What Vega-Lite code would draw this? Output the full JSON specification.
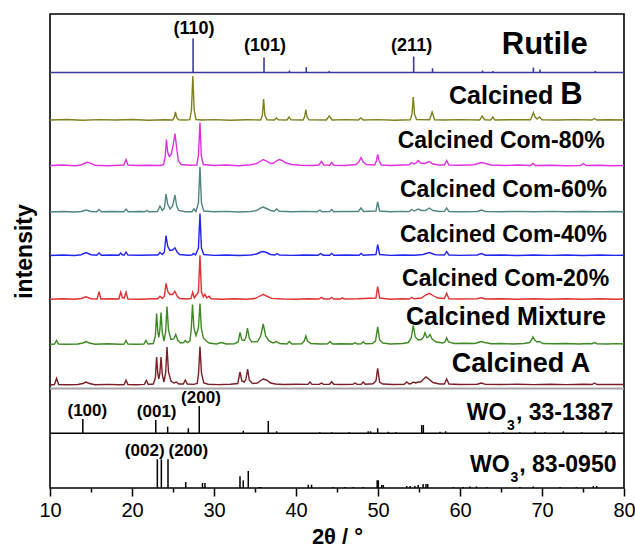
{
"$schema": "https://vega.github.io/schema/vega-lite/v6.json",
"width": 574, "height": 474,
"autosize": "none",
"padding": {"left": 50, "top": 14, "right": 11, "bottom": 63},
"background": "white",
"config": {"view": {"stroke": "#000", "strokeWidth": 1.6}, "font": "Liberation Sans",
 "axisX": {"labelFontSize": 20, "labelColor": "#000", "labelFont": "Liberation Sans", "labelPadding": 4, "titleFontSize": 22, "titleFontWeight": "bold", "titleColor": "#000", "titleFont": "Liberation Sans", "titlePadding": 6, "grid": false, "domain": false, "tickColor": "#000", "tickWidth": 1.5},
 "axisY": {"titleFontSize": 23, "titleFontWeight": "bold", "titleColor": "#000", "titleFont": "Liberation Sans", "titlePadding": 14, "grid": false, "domain": false, "ticks": false, "labels": false}},
"datasets": {
"traces": [
{"s":"B","x":10,"y":368},{"s":"B","x":12,"y":368.5},{"s":"B","x":14,"y":367.8},{"s":"B","x":16,"y":368.4},{"s":"B","x":18,"y":368},{"s":"B","x":20,"y":368.5},{"s":"B","x":22,"y":367.8},{"s":"B","x":24,"y":368.3},{"s":"B","x":24.95,"y":368},{"s":"B","x":25.15,"y":370.5},{"s":"B","x":25.3,"y":376},{"s":"B","x":25.45,"y":370.5},{"s":"B","x":25.7,"y":368.2},{"s":"B","x":26.5,"y":368},{"s":"B","x":27.05,"y":368.3},{"s":"B","x":27.25,"y":378},{"s":"B","x":27.42,"y":412},{"s":"B","x":27.58,"y":378},{"s":"B","x":27.8,"y":368.5},{"s":"B","x":28.5,"y":368},{"s":"B","x":30,"y":368.4},{"s":"B","x":32,"y":367.8},{"s":"B","x":34,"y":368.3},{"s":"B","x":35.5,"y":368},{"s":"B","x":35.7,"y":368.2},{"s":"B","x":35.9,"y":373},{"s":"B","x":36.05,"y":389},{"s":"B","x":36.2,"y":373},{"s":"B","x":36.45,"y":368.3},{"s":"B","x":37.35,"y":368},{"s":"B","x":37.6,"y":370},{"s":"B","x":37.85,"y":368.2},{"s":"B","x":38.9,"y":368},{"s":"B","x":39.15,"y":371},{"s":"B","x":39.4,"y":368.2},{"s":"B","x":40.85,"y":368},{"s":"B","x":41.05,"y":371},{"s":"B","x":41.2,"y":378.5},{"s":"B","x":41.35,"y":371},{"s":"B","x":41.6,"y":368.2},{"s":"B","x":43.7,"y":368},{"s":"B","x":44.05,"y":372},{"s":"B","x":44.4,"y":368},{"s":"B","x":46,"y":368.4},{"s":"B","x":47.6,"y":368},{"s":"B","x":47.9,"y":370},{"s":"B","x":48.2,"y":368},{"s":"B","x":50,"y":368.4},{"s":"B","x":52,"y":367.8},{"s":"B","x":53.95,"y":368.3},{"s":"B","x":54.15,"y":374},{"s":"B","x":54.3,"y":391},{"s":"B","x":54.45,"y":374},{"s":"B","x":54.7,"y":368.5},{"s":"B","x":56.3,"y":368.2},{"s":"B","x":56.6,"y":376},{"s":"B","x":56.9,"y":368.3},{"s":"B","x":58,"y":368},{"s":"B","x":60,"y":368.4},{"s":"B","x":62.4,"y":368},{"s":"B","x":62.7,"y":372},{"s":"B","x":63,"y":368.3},{"s":"B","x":63.75,"y":368},{"s":"B","x":64,"y":371},{"s":"B","x":64.25,"y":368},{"s":"B","x":66,"y":368.3},{"s":"B","x":68.6,"y":368.2},{"s":"B","x":68.8,"y":372},{"s":"B","x":68.95,"y":375.5},{"s":"B","x":69.15,"y":371},{"s":"B","x":69.4,"y":369},{"s":"B","x":69.7,"y":371},{"s":"B","x":70,"y":368.3},{"s":"B","x":72,"y":368},{"s":"B","x":74,"y":368.4},{"s":"B","x":76.1,"y":368},{"s":"B","x":76.4,"y":369.5},{"s":"B","x":76.7,"y":368},{"s":"B","x":78,"y":368.3},{"s":"B","x":80,"y":368},
{"s":"80","x":10,"y":322.5},{"s":"80","x":11.5,"y":323},{"s":"80","x":13,"y":322.3},{"s":"80","x":13.8,"y":323},{"s":"80","x":14.3,"y":325},{"s":"80","x":14.6,"y":325.8},{"s":"80","x":14.9,"y":324.8},{"s":"80","x":15.5,"y":322.8},{"s":"80","x":17,"y":322.3},{"s":"80","x":18.5,"y":322.8},{"s":"80","x":19.0,"y":323},{"s":"80","x":19.27,"y":328.5},{"s":"80","x":19.5,"y":323},{"s":"80","x":20.5,"y":322.5},{"s":"80","x":22,"y":322.8},{"s":"80","x":23.5,"y":322.5},{"s":"80","x":23.85,"y":323.5},{"s":"80","x":24.05,"y":331},{"s":"80","x":24.2,"y":348.5},{"s":"80","x":24.35,"y":336},{"s":"80","x":24.55,"y":331.5},{"s":"80","x":24.8,"y":334},{"s":"80","x":25.0,"y":342},{"s":"80","x":25.24,"y":354.5},{"s":"80","x":25.45,"y":340},{"s":"80","x":25.65,"y":327},{"s":"80","x":26,"y":323.5},{"s":"80","x":27,"y":322.8},{"s":"80","x":27.9,"y":323},{"s":"80","x":28.1,"y":332},{"s":"80","x":28.29,"y":365.5},{"s":"80","x":28.45,"y":332},{"s":"80","x":28.7,"y":323.5},{"s":"80","x":30,"y":322.5},{"s":"80","x":31.5,"y":323},{"s":"80","x":33,"y":322.3},{"s":"80","x":34.5,"y":323.2},{"s":"80","x":35.2,"y":324.5},{"s":"80","x":35.7,"y":327},{"s":"80","x":36.0,"y":328.5},{"s":"80","x":36.4,"y":327},{"s":"80","x":36.9,"y":324.5},{"s":"80","x":37.3,"y":325},{"s":"80","x":37.6,"y":327},{"s":"80","x":37.96,"y":328.5},{"s":"80","x":38.3,"y":327.5},{"s":"80","x":38.8,"y":325},{"s":"80","x":39.5,"y":323.5},{"s":"80","x":40.5,"y":322.8},{"s":"80","x":42,"y":322.5},{"s":"80","x":42.8,"y":323},{"s":"80","x":43.1,"y":326.5},{"s":"80","x":43.4,"y":323},{"s":"80","x":44.1,"y":322.8},{"s":"80","x":44.35,"y":325.5},{"s":"80","x":44.6,"y":322.8},{"s":"80","x":46,"y":322.5},{"s":"80","x":47.3,"y":323.5},{"s":"80","x":47.65,"y":326},{"s":"80","x":47.93,"y":330.5},{"s":"80","x":48.2,"y":326},{"s":"80","x":48.6,"y":323.5},{"s":"80","x":49.6,"y":323},{"s":"80","x":49.8,"y":327},{"s":"80","x":49.96,"y":333.5},{"s":"80","x":50.15,"y":327},{"s":"80","x":50.4,"y":323},{"s":"80","x":51.5,"y":322.5},{"s":"80","x":53,"y":323},{"s":"80","x":53.8,"y":323.3},{"s":"80","x":54.1,"y":325.5},{"s":"80","x":54.4,"y":324},{"s":"80","x":54.65,"y":325},{"s":"80","x":54.9,"y":327.5},{"s":"80","x":55.2,"y":325},{"s":"80","x":55.7,"y":324.5},{"s":"80","x":56.26,"y":326.5},{"s":"80","x":56.7,"y":324},{"s":"80","x":57.5,"y":323},{"s":"80","x":58.1,"y":323},{"s":"80","x":58.37,"y":327.5},{"s":"80","x":58.65,"y":323},{"s":"80","x":60,"y":322.8},{"s":"80","x":61.7,"y":323.3},{"s":"80","x":62.2,"y":324.5},{"s":"80","x":62.64,"y":325.5},{"s":"80","x":63.1,"y":324.5},{"s":"80","x":63.8,"y":323},{"s":"80","x":65.5,"y":322.5},{"s":"80","x":67,"y":323},{"s":"80","x":68.6,"y":322.5},{"s":"80","x":68.9,"y":324.5},{"s":"80","x":69.2,"y":322.5},{"s":"80","x":71,"y":322.8},{"s":"80","x":73,"y":322.3},{"s":"80","x":74.7,"y":322.5},{"s":"80","x":75.04,"y":324.5},{"s":"80","x":75.4,"y":322.5},{"s":"80","x":77,"y":322.8},{"s":"80","x":78.5,"y":322.3},{"s":"80","x":80,"y":322.5},
{"s":"60","x":10,"y":276},{"s":"60","x":11.5,"y":276.5},{"s":"60","x":13,"y":276},{"s":"60","x":13.8,"y":276.5},{"s":"60","x":14.4,"y":278},{"s":"60","x":15,"y":276.5},{"s":"60","x":15.7,"y":276.2},{"s":"60","x":15.98,"y":278.5},{"s":"60","x":16.25,"y":276.2},{"s":"60","x":17.5,"y":276.5},{"s":"60","x":19.0,"y":276.2},{"s":"60","x":19.27,"y":279},{"s":"60","x":19.55,"y":276.2},{"s":"60","x":21,"y":276.5},{"s":"60","x":21.55,"y":276.3},{"s":"60","x":21.8,"y":277.5},{"s":"60","x":22.05,"y":276.3},{"s":"60","x":23.1,"y":276.5},{"s":"60","x":23.41,"y":282},{"s":"60","x":23.7,"y":277.5},{"s":"60","x":23.95,"y":280},{"s":"60","x":24.15,"y":294},{"s":"60","x":24.35,"y":284},{"s":"60","x":24.65,"y":279},{"s":"60","x":24.95,"y":282},{"s":"60","x":25.24,"y":293},{"s":"60","x":25.45,"y":282},{"s":"60","x":25.7,"y":277.5},{"s":"60","x":26.5,"y":276.3},{"s":"60","x":27.3,"y":276.3},{"s":"60","x":27.56,"y":279},{"s":"60","x":27.8,"y":276.5},{"s":"60","x":28.1,"y":285},{"s":"60","x":28.29,"y":321},{"s":"60","x":28.47,"y":285},{"s":"60","x":28.75,"y":277},{"s":"60","x":30,"y":276.2},{"s":"60","x":31.5,"y":276.6},{"s":"60","x":33,"y":276},{"s":"60","x":34.5,"y":276.5},{"s":"60","x":35.2,"y":277.5},{"s":"60","x":35.7,"y":280},{"s":"60","x":36.0,"y":281},{"s":"60","x":36.4,"y":279.5},{"s":"60","x":36.9,"y":277.5},{"s":"60","x":37.35,"y":276.8},{"s":"60","x":37.64,"y":279},{"s":"60","x":37.95,"y":276.8},{"s":"60","x":39.5,"y":276.2},{"s":"60","x":41,"y":276.6},{"s":"60","x":42.6,"y":276.2},{"s":"60","x":42.9,"y":278},{"s":"60","x":43.2,"y":276.3},{"s":"60","x":44.1,"y":276.4},{"s":"60","x":44.35,"y":278.5},{"s":"60","x":44.6,"y":276.3},{"s":"60","x":46,"y":276.6},{"s":"60","x":47.6,"y":276.5},{"s":"60","x":47.93,"y":280},{"s":"60","x":48.25,"y":276.5},{"s":"60","x":49.75,"y":277},{"s":"60","x":49.96,"y":286},{"s":"60","x":50.2,"y":277},{"s":"60","x":51.5,"y":276.3},{"s":"60","x":53,"y":276.6},{"s":"60","x":53.8,"y":276.4},{"s":"60","x":54.1,"y":278.5},{"s":"60","x":54.45,"y":277},{"s":"60","x":54.9,"y":279},{"s":"60","x":55.3,"y":277.5},{"s":"60","x":55.8,"y":277.5},{"s":"60","x":56.26,"y":280},{"s":"60","x":56.7,"y":277.5},{"s":"60","x":57.5,"y":276.5},{"s":"60","x":58.1,"y":276.6},{"s":"60","x":58.37,"y":280},{"s":"60","x":58.65,"y":276.5},{"s":"60","x":60,"y":276.2},{"s":"60","x":62.1,"y":276.5},{"s":"60","x":62.6,"y":278},{"s":"60","x":63.1,"y":276.5},{"s":"60","x":65,"y":276.3},{"s":"60","x":67,"y":276.6},{"s":"60","x":69,"y":276.2},{"s":"60","x":71,"y":276.6},{"s":"60","x":73,"y":276.2},{"s":"60","x":75,"y":276.5},{"s":"60","x":77,"y":276.2},{"s":"60","x":79,"y":276.5},{"s":"60","x":80,"y":276.3},
{"s":"40","x":10,"y":232.5},{"s":"40","x":11.5,"y":233},{"s":"40","x":13,"y":232.5},{"s":"40","x":13.8,"y":233.3},{"s":"40","x":14.4,"y":235.5},{"s":"40","x":15,"y":233.3},{"s":"40","x":15.7,"y":232.8},{"s":"40","x":15.98,"y":235},{"s":"40","x":16.25,"y":232.8},{"s":"40","x":17.5,"y":233},{"s":"40","x":18.4,"y":232.8},{"s":"40","x":18.62,"y":235},{"s":"40","x":18.85,"y":233},{"s":"40","x":19.05,"y":233},{"s":"40","x":19.27,"y":236},{"s":"40","x":19.5,"y":233},{"s":"40","x":21,"y":232.8},{"s":"40","x":22.5,"y":233},{"s":"40","x":23.15,"y":233},{"s":"40","x":23.41,"y":235.5},{"s":"40","x":23.7,"y":233.5},{"s":"40","x":23.95,"y":236},{"s":"40","x":24.15,"y":252.5},{"s":"40","x":24.35,"y":242},{"s":"40","x":24.6,"y":237.5},{"s":"40","x":24.95,"y":238},{"s":"40","x":25.24,"y":240.2},{"s":"40","x":25.5,"y":236},{"s":"40","x":25.8,"y":233.5},{"s":"40","x":26.8,"y":232.8},{"s":"40","x":27.3,"y":233},{"s":"40","x":27.5,"y":234.5},{"s":"40","x":27.75,"y":233},{"s":"40","x":28.1,"y":240},{"s":"40","x":28.29,"y":274.5},{"s":"40","x":28.47,"y":240},{"s":"40","x":28.75,"y":233.5},{"s":"40","x":30,"y":232.6},{"s":"40","x":31.5,"y":233},{"s":"40","x":33,"y":232.5},{"s":"40","x":34.5,"y":233},{"s":"40","x":35.2,"y":234},{"s":"40","x":35.7,"y":236},{"s":"40","x":36.0,"y":236.5},{"s":"40","x":36.4,"y":235.5},{"s":"40","x":36.9,"y":233.5},{"s":"40","x":37.45,"y":233},{"s":"40","x":37.7,"y":234.5},{"s":"40","x":37.95,"y":233},{"s":"40","x":39.5,"y":232.6},{"s":"40","x":41,"y":233},{"s":"40","x":42.7,"y":232.8},{"s":"40","x":43.0,"y":234.5},{"s":"40","x":43.3,"y":232.8},{"s":"40","x":44.1,"y":232.8},{"s":"40","x":44.35,"y":234.5},{"s":"40","x":44.6,"y":232.8},{"s":"40","x":46,"y":233},{"s":"40","x":47.7,"y":232.8},{"s":"40","x":47.93,"y":234.5},{"s":"40","x":48.2,"y":232.8},{"s":"40","x":49.75,"y":233.5},{"s":"40","x":49.96,"y":243.5},{"s":"40","x":50.2,"y":233.5},{"s":"40","x":51.5,"y":232.6},{"s":"40","x":53,"y":233},{"s":"40","x":54.5,"y":232.8},{"s":"40","x":55.5,"y":233.5},{"s":"40","x":56.26,"y":235.5},{"s":"40","x":57,"y":233.3},{"s":"40","x":58.1,"y":233},{"s":"40","x":58.37,"y":236.5},{"s":"40","x":58.65,"y":233},{"s":"40","x":60,"y":232.6},{"s":"40","x":62.1,"y":233},{"s":"40","x":62.6,"y":234.5},{"s":"40","x":63.1,"y":232.8},{"s":"40","x":65,"y":233},{"s":"40","x":67,"y":232.5},{"s":"40","x":69,"y":233},{"s":"40","x":71,"y":232.6},{"s":"40","x":73,"y":233},{"s":"40","x":75,"y":232.5},{"s":"40","x":77,"y":233},{"s":"40","x":79,"y":232.6},{"s":"40","x":80,"y":232.8},
{"s":"20","x":10,"y":188.7},{"s":"20","x":11.5,"y":189.2},{"s":"20","x":13,"y":188.7},{"s":"20","x":13.8,"y":189.5},{"s":"20","x":14.4,"y":191.2},{"s":"20","x":15,"y":189.3},{"s":"20","x":15.75,"y":189},{"s":"20","x":15.98,"y":196.4},{"s":"20","x":16.2,"y":189},{"s":"20","x":17.5,"y":189.2},{"s":"20","x":18.4,"y":189},{"s":"20","x":18.62,"y":195.7},{"s":"20","x":18.85,"y":190},{"s":"20","x":19.05,"y":190},{"s":"20","x":19.27,"y":195.7},{"s":"20","x":19.5,"y":189},{"s":"20","x":21,"y":188.8},{"s":"20","x":22.5,"y":189.2},{"s":"20","x":23.15,"y":189.2},{"s":"20","x":23.41,"y":191.7},{"s":"20","x":23.7,"y":189.5},{"s":"20","x":23.95,"y":192},{"s":"20","x":24.15,"y":204.7},{"s":"20","x":24.35,"y":197},{"s":"20","x":24.6,"y":193.5},{"s":"20","x":24.95,"y":193.5},{"s":"20","x":25.24,"y":196.7},{"s":"20","x":25.5,"y":192},{"s":"20","x":25.8,"y":189.5},{"s":"20","x":26.8,"y":189},{"s":"20","x":27.2,"y":189.5},{"s":"20","x":27.4,"y":195.7},{"s":"20","x":27.6,"y":190},{"s":"20","x":28.1,"y":196},{"s":"20","x":28.29,"y":232.7},{"s":"20","x":28.47,"y":196},{"s":"20","x":28.7,"y":191},{"s":"20","x":28.9,"y":193.7},{"s":"20","x":29.1,"y":190},{"s":"20","x":29.4,"y":191.7},{"s":"20","x":29.65,"y":189.2},{"s":"20","x":31,"y":188.8},{"s":"20","x":32.5,"y":189.2},{"s":"20","x":34,"y":188.7},{"s":"20","x":35,"y":189.5},{"s":"20","x":35.6,"y":192},{"s":"20","x":36.0,"y":193.7},{"s":"20","x":36.4,"y":192},{"s":"20","x":37,"y":189.6},{"s":"20","x":38.5,"y":189},{"s":"20","x":40,"y":188.8},{"s":"20","x":41.5,"y":189.2},{"s":"20","x":42.8,"y":189},{"s":"20","x":43.1,"y":190.7},{"s":"20","x":43.4,"y":189},{"s":"20","x":44.1,"y":189},{"s":"20","x":44.35,"y":190.7},{"s":"20","x":44.6,"y":189},{"s":"20","x":45.4,"y":189},{"s":"20","x":45.65,"y":190.2},{"s":"20","x":45.9,"y":189},{"s":"20","x":47.5,"y":189.2},{"s":"20","x":49.75,"y":190},{"s":"20","x":49.96,"y":201.4},{"s":"20","x":50.2,"y":190},{"s":"20","x":51.5,"y":188.8},{"s":"20","x":53,"y":189.2},{"s":"20","x":53.85,"y":189},{"s":"20","x":54.1,"y":190.7},{"s":"20","x":54.4,"y":189.2},{"s":"20","x":55.3,"y":190},{"s":"20","x":55.8,"y":193},{"s":"20","x":56.26,"y":194.7},{"s":"20","x":56.7,"y":192.5},{"s":"20","x":57.3,"y":190},{"s":"20","x":58.1,"y":189.5},{"s":"20","x":58.37,"y":194.7},{"s":"20","x":58.65,"y":189.3},{"s":"20","x":60,"y":189},{"s":"20","x":62.1,"y":189.2},{"s":"20","x":62.6,"y":190.2},{"s":"20","x":63.1,"y":189},{"s":"20","x":65,"y":189.2},{"s":"20","x":67,"y":188.7},{"s":"20","x":69,"y":189.2},{"s":"20","x":71,"y":188.8},{"s":"20","x":73,"y":189.2},{"s":"20","x":75,"y":188.7},{"s":"20","x":77,"y":189.2},{"s":"20","x":79,"y":188.8},{"s":"20","x":80,"y":189},
{"s":"Mix","x":10,"y":143.5},{"s":"Mix","x":10.55,"y":144},{"s":"Mix","x":10.8,"y":147.5},{"s":"Mix","x":11.05,"y":144},{"s":"Mix","x":12,"y":143.8},{"s":"Mix","x":13.4,"y":144},{"s":"Mix","x":14,"y":145},{"s":"Mix","x":14.4,"y":146.5},{"s":"Mix","x":14.8,"y":145},{"s":"Mix","x":15.5,"y":143.8},{"s":"Mix","x":17,"y":144.2},{"s":"Mix","x":18.5,"y":143.8},{"s":"Mix","x":19.05,"y":144},{"s":"Mix","x":19.27,"y":147.5},{"s":"Mix","x":19.5,"y":144},{"s":"Mix","x":20.5,"y":143.8},{"s":"Mix","x":21.45,"y":144},{"s":"Mix","x":21.7,"y":147.5},{"s":"Mix","x":21.95,"y":144},{"s":"Mix","x":22.6,"y":144.5},{"s":"Mix","x":22.85,"y":152},{"s":"Mix","x":23.0,"y":174.5},{"s":"Mix","x":23.15,"y":156},{"s":"Mix","x":23.27,"y":150.5},{"s":"Mix","x":23.4,"y":158},{"s":"Mix","x":23.54,"y":175.5},{"s":"Mix","x":23.7,"y":155},{"s":"Mix","x":23.9,"y":147},{"s":"Mix","x":24.1,"y":156},{"s":"Mix","x":24.27,"y":181.5},{"s":"Mix","x":24.45,"y":158},{"s":"Mix","x":24.75,"y":148.5},{"s":"Mix","x":25.1,"y":149},{"s":"Mix","x":25.33,"y":153.5},{"s":"Mix","x":25.6,"y":147.5},{"s":"Mix","x":25.95,"y":145},{"s":"Mix","x":26.3,"y":145.5},{"s":"Mix","x":26.5,"y":147.5},{"s":"Mix","x":26.75,"y":145.5},{"s":"Mix","x":27.05,"y":147},{"s":"Mix","x":27.22,"y":158},{"s":"Mix","x":27.38,"y":183.5},{"s":"Mix","x":27.55,"y":160},{"s":"Mix","x":27.8,"y":152.5},{"s":"Mix","x":28.1,"y":160},{"s":"Mix","x":28.29,"y":184.5},{"s":"Mix","x":28.45,"y":160},{"s":"Mix","x":28.7,"y":150},{"s":"Mix","x":29.0,"y":147.5},{"s":"Mix","x":29.4,"y":145},{"s":"Mix","x":30.3,"y":144},{"s":"Mix","x":30.9,"y":145.5},{"s":"Mix","x":31.5,"y":144},{"s":"Mix","x":32.5,"y":144.3},{"s":"Mix","x":32.95,"y":146},{"s":"Mix","x":33.17,"y":155.5},{"s":"Mix","x":33.4,"y":148},{"s":"Mix","x":33.7,"y":147.5},{"s":"Mix","x":33.9,"y":151},{"s":"Mix","x":34.08,"y":160},{"s":"Mix","x":34.3,"y":150},{"s":"Mix","x":34.6,"y":146},{"s":"Mix","x":35.3,"y":146.5},{"s":"Mix","x":35.7,"y":152},{"s":"Mix","x":36.0,"y":164},{"s":"Mix","x":36.3,"y":152},{"s":"Mix","x":36.7,"y":147},{"s":"Mix","x":37.2,"y":145},{"s":"Mix","x":37.6,"y":146.5},{"s":"Mix","x":38,"y":144.5},{"s":"Mix","x":38.9,"y":144},{"s":"Mix","x":39.2,"y":146.5},{"s":"Mix","x":39.5,"y":144},{"s":"Mix","x":40.7,"y":144.2},{"s":"Mix","x":41.0,"y":147},{"s":"Mix","x":41.2,"y":152},{"s":"Mix","x":41.4,"y":147},{"s":"Mix","x":41.8,"y":144.5},{"s":"Mix","x":43,"y":144},{"s":"Mix","x":43.85,"y":144.2},{"s":"Mix","x":44.15,"y":146.5},{"s":"Mix","x":44.45,"y":144},{"s":"Mix","x":45.5,"y":144.3},{"s":"Mix","x":46.95,"y":144},{"s":"Mix","x":47.2,"y":145.5},{"s":"Mix","x":47.45,"y":144},{"s":"Mix","x":47.95,"y":144.2},{"s":"Mix","x":48.2,"y":146.2},{"s":"Mix","x":48.45,"y":144.2},{"s":"Mix","x":49.3,"y":144.5},{"s":"Mix","x":49.7,"y":147},{"s":"Mix","x":49.96,"y":161.2},{"s":"Mix","x":50.2,"y":148},{"s":"Mix","x":50.6,"y":145},{"s":"Mix","x":51.5,"y":144},{"s":"Mix","x":53,"y":144.5},{"s":"Mix","x":53.7,"y":145.5},{"s":"Mix","x":54.05,"y":150},{"s":"Mix","x":54.3,"y":162.5},{"s":"Mix","x":54.55,"y":151},{"s":"Mix","x":54.9,"y":148},{"s":"Mix","x":55.3,"y":148.5},{"s":"Mix","x":55.55,"y":151},{"s":"Mix","x":55.73,"y":155.2},{"s":"Mix","x":55.95,"y":150.5},{"s":"Mix","x":56.15,"y":151},{"s":"Mix","x":56.34,"y":153.5},{"s":"Mix","x":56.6,"y":149},{"s":"Mix","x":57.1,"y":146},{"s":"Mix","x":57.9,"y":145},{"s":"Mix","x":58.2,"y":146.5},{"s":"Mix","x":58.37,"y":150.2},{"s":"Mix","x":58.6,"y":146},{"s":"Mix","x":59.3,"y":144.5},{"s":"Mix","x":60.5,"y":144.8},{"s":"Mix","x":61.8,"y":144.5},{"s":"Mix","x":62.2,"y":145.5},{"s":"Mix","x":62.6,"y":146.5},{"s":"Mix","x":63,"y":145.5},{"s":"Mix","x":63.8,"y":144.2},{"s":"Mix","x":65,"y":144.5},{"s":"Mix","x":66.5,"y":144},{"s":"Mix","x":67.8,"y":144.5},{"s":"Mix","x":68.5,"y":145.5},{"s":"Mix","x":68.75,"y":148.5},{"s":"Mix","x":68.9,"y":151.2},{"s":"Mix","x":69.1,"y":148},{"s":"Mix","x":69.4,"y":146},{"s":"Mix","x":69.7,"y":146.5},{"s":"Mix","x":70.1,"y":144.5},{"s":"Mix","x":71.5,"y":144.2},{"s":"Mix","x":73,"y":144.5},{"s":"Mix","x":74.5,"y":144},{"s":"Mix","x":75.7,"y":144.5},{"s":"Mix","x":76.1,"y":144.3},{"s":"Mix","x":76.4,"y":145.5},{"s":"Mix","x":76.7,"y":144.3},{"s":"Mix","x":78,"y":144},{"s":"Mix","x":79,"y":144.4},{"s":"Mix","x":80,"y":144},
{"s":"A","x":10,"y":103},{"s":"A","x":10.55,"y":103.5},{"s":"A","x":10.8,"y":109.7},{"s":"A","x":11.05,"y":103.5},{"s":"A","x":12,"y":103.2},{"s":"A","x":13.4,"y":103.5},{"s":"A","x":14,"y":104.5},{"s":"A","x":14.4,"y":106},{"s":"A","x":14.8,"y":104.5},{"s":"A","x":15.5,"y":103.3},{"s":"A","x":17,"y":103.6},{"s":"A","x":18.5,"y":103.2},{"s":"A","x":19.05,"y":103.5},{"s":"A","x":19.27,"y":108},{"s":"A","x":19.5,"y":103.5},{"s":"A","x":20.5,"y":103.3},{"s":"A","x":21.5,"y":103.6},{"s":"A","x":21.75,"y":107.5},{"s":"A","x":22,"y":103.5},{"s":"A","x":22.6,"y":104},{"s":"A","x":22.85,"y":110},{"s":"A","x":23.0,"y":131},{"s":"A","x":23.15,"y":114},{"s":"A","x":23.27,"y":109},{"s":"A","x":23.4,"y":115},{"s":"A","x":23.54,"y":131},{"s":"A","x":23.7,"y":113},{"s":"A","x":23.9,"y":106},{"s":"A","x":24.1,"y":115},{"s":"A","x":24.27,"y":141},{"s":"A","x":24.45,"y":116},{"s":"A","x":24.75,"y":107},{"s":"A","x":25.1,"y":105},{"s":"A","x":25.4,"y":106},{"s":"A","x":25.7,"y":104},{"s":"A","x":26.25,"y":104},{"s":"A","x":26.5,"y":108},{"s":"A","x":26.75,"y":104},{"s":"A","x":27.5,"y":103.6},{"s":"A","x":27.95,"y":104.5},{"s":"A","x":28.12,"y":115},{"s":"A","x":28.29,"y":141.5},{"s":"A","x":28.47,"y":115},{"s":"A","x":28.75,"y":105},{"s":"A","x":29.3,"y":103.8},{"s":"A","x":30.5,"y":103.4},{"s":"A","x":32,"y":103.7},{"s":"A","x":32.9,"y":104.5},{"s":"A","x":33.17,"y":116},{"s":"A","x":33.4,"y":107},{"s":"A","x":33.7,"y":106},{"s":"A","x":33.9,"y":109},{"s":"A","x":34.1,"y":119},{"s":"A","x":34.3,"y":108},{"s":"A","x":34.7,"y":104.5},{"s":"A","x":35.3,"y":105},{"s":"A","x":35.7,"y":107.5},{"s":"A","x":36.0,"y":109},{"s":"A","x":36.4,"y":108},{"s":"A","x":36.9,"y":105},{"s":"A","x":37.5,"y":104},{"s":"A","x":38.5,"y":103.5},{"s":"A","x":40,"y":103.8},{"s":"A","x":41.45,"y":103.6},{"s":"A","x":41.7,"y":106},{"s":"A","x":41.95,"y":103.6},{"s":"A","x":42.85,"y":103.6},{"s":"A","x":43.1,"y":105},{"s":"A","x":43.35,"y":103.6},{"s":"A","x":44.1,"y":103.8},{"s":"A","x":44.35,"y":106.3},{"s":"A","x":44.6,"y":103.7},{"s":"A","x":45.5,"y":103.5},{"s":"A","x":46.95,"y":103.6},{"s":"A","x":47.2,"y":105},{"s":"A","x":47.45,"y":103.6},{"s":"A","x":47.95,"y":103.7},{"s":"A","x":48.2,"y":106},{"s":"A","x":48.45,"y":103.7},{"s":"A","x":49.4,"y":104.2},{"s":"A","x":49.75,"y":107},{"s":"A","x":49.96,"y":119.7},{"s":"A","x":50.2,"y":106},{"s":"A","x":50.6,"y":104},{"s":"A","x":51.8,"y":103.5},{"s":"A","x":53.2,"y":103.8},{"s":"A","x":53.5,"y":106},{"s":"A","x":53.8,"y":104},{"s":"A","x":54.05,"y":104.5},{"s":"A","x":54.3,"y":106},{"s":"A","x":54.6,"y":105},{"s":"A","x":54.9,"y":106},{"s":"A","x":55.2,"y":106},{"s":"A","x":55.5,"y":108.5},{"s":"A","x":55.85,"y":111},{"s":"A","x":56.2,"y":109},{"s":"A","x":56.7,"y":105.5},{"s":"A","x":57.5,"y":104},{"s":"A","x":58.1,"y":104},{"s":"A","x":58.37,"y":109},{"s":"A","x":58.65,"y":104},{"s":"A","x":60,"y":103.5},{"s":"A","x":62.1,"y":103.8},{"s":"A","x":62.6,"y":105},{"s":"A","x":63.1,"y":103.6},{"s":"A","x":65,"y":103.5},{"s":"A","x":67,"y":103.8},{"s":"A","x":69,"y":103.4},{"s":"A","x":71,"y":103.8},{"s":"A","x":73,"y":103.4},{"s":"A","x":75,"y":103.8},{"s":"A","x":76.1,"y":103.5},{"s":"A","x":76.4,"y":105},{"s":"A","x":76.7,"y":103.5},{"s":"A","x":78,"y":103.5},{"s":"A","x":80,"y":103.5}
],
"rutile": [
{"x":27.45,"y":415.5,"y2":449.5},{"x":36.1,"y":415.5,"y2":430.5},{"x":39.2,"y":415.5,"y2":417.5},{"x":41.25,"y":415.5,"y2":420.8},{"x":44.05,"y":415.5,"y2":417},{"x":54.35,"y":415.5,"y2":431.5},{"x":56.65,"y":415.5,"y2":419.8},{"x":62.75,"y":415.5,"y2":417.5},{"x":64.0,"y":415.5,"y2":417},{"x":68.95,"y":415.5,"y2":420.5},{"x":69.75,"y":415.5,"y2":418.5},{"x":76.5,"y":415.5,"y2":417}
],
"wo3": [
{"x":14.0,"y":54.7,"y2":69},{"x":22.9,"y":54.7,"y2":68},{"x":24.35,"y":54.7,"y2":61.4},{"x":26.87,"y":54.7,"y2":59.7},{"x":28.2,"y":54.7,"y2":82},{"x":33.57,"y":54.7,"y2":57.2},{"x":36.62,"y":54.7,"y2":67},{"x":37.64,"y":54.7,"y2":56.7},{"x":42.9,"y":54.7,"y2":55.7},{"x":44.35,"y":54.7,"y2":55.7},{"x":46.5,"y":54.7,"y2":55.7},{"x":48.8,"y":54.7,"y2":56.7},{"x":49.1,"y":54.7,"y2":56.7},{"x":49.96,"y":54.7,"y2":59.7},{"x":51.26,"y":54.7,"y2":56.2},{"x":52.2,"y":54.7,"y2":55.7},{"x":55.33,"y":54.7,"y2":63},{"x":55.53,"y":54.7,"y2":63},{"x":57.56,"y":54.7,"y2":56.2},{"x":58.25,"y":54.7,"y2":56.7},{"x":63.57,"y":54.7,"y2":56.2},{"x":65.28,"y":54.7,"y2":55.7},{"x":67.3,"y":54.7,"y2":55.7},{"x":69.15,"y":54.7,"y2":56.2},{"x":70.37,"y":54.7,"y2":55.7},{"x":72.6,"y":54.7,"y2":56.7},{"x":74.84,"y":54.7,"y2":55.7},{"x":77.8,"y":54.7,"y2":56.7},{"x":78.7,"y":54.7,"y2":55.7},
{"x":23.09,"y":0,"y2":28.7},{"x":23.58,"y":0,"y2":28.7},{"x":24.39,"y":0,"y2":28.7},{"x":26.55,"y":0,"y2":6},{"x":28.6,"y":0,"y2":5},{"x":28.9,"y":0,"y2":5},{"x":33.17,"y":0,"y2":11.7},{"x":33.57,"y":0,"y2":7.7},{"x":34.18,"y":0,"y2":17},{"x":35.5,"y":0,"y2":1},{"x":35.7,"y":0,"y2":1},{"x":41.5,"y":0,"y2":3.3},{"x":41.9,"y":0,"y2":3.3},{"x":44.55,"y":0,"y2":1},{"x":45.98,"y":0,"y2":1},{"x":47,"y":0,"y2":1},{"x":48.2,"y":0,"y2":1},{"x":49.9,"y":0,"y2":7.7},{"x":50.04,"y":0,"y2":7.7},{"x":50.45,"y":0,"y2":3},{"x":50.65,"y":0,"y2":3},{"x":53.5,"y":0,"y2":2},{"x":53.9,"y":0,"y2":2},{"x":54.5,"y":0,"y2":2},{"x":54.9,"y":0,"y2":3},{"x":55.5,"y":0,"y2":4},{"x":55.85,"y":0,"y2":4},{"x":56.06,"y":0,"y2":4},{"x":59.2,"y":0,"y2":1},{"x":60.4,"y":0,"y2":1},{"x":61.2,"y":0,"y2":1.5},{"x":62.0,"y":0,"y2":1.5},{"x":63.25,"y":0,"y2":1},{"x":67.3,"y":0,"y2":1},{"x":68.94,"y":0,"y2":1.5},{"x":72.2,"y":0,"y2":1},{"x":74.2,"y":0,"y2":1},{"x":76.26,"y":0,"y2":2},{"x":76.67,"y":0,"y2":2}
]
},
"layer": [
{"data": {"values": [{"y": 415.5}]}, "mark": {"type": "rule", "color": "#3b3b9e", "strokeWidth": 1.6},
 "encoding": {"y": {"field": "y", "type": "quantitative", "title": "intensity", "scale": {"domain": [0, 474], "nice": false, "zero": false}}}},
{"data": {"values": [{"y": 99.5}]}, "mark": {"type": "rule", "color": "#a5a5a5", "strokeWidth": 2.2},
 "encoding": {"y": {"field": "y", "type": "quantitative", "title": "intensity", "scale": {"domain": [0, 474], "nice": false, "zero": false}}}},
{"data": {"values": [{"y": 54.7}]}, "mark": {"type": "rule", "color": "#000", "strokeWidth": 1.5},
 "encoding": {"y": {"field": "y", "type": "quantitative", "title": "intensity", "scale": {"domain": [0, 474], "nice": false, "zero": false}}}},
{"data": {"name": "rutile"}, "mark": {"type": "rule", "color": "#3b3b9e", "strokeWidth": 1.6},
 "encoding": {
  "x": {"field": "x", "type": "quantitative", "title": "2θ / °", "scale": {"domain": [10, 80], "nice": false, "zero": false}},
  "y": {"field": "y", "type": "quantitative", "title": "intensity", "scale": {"domain": [0, 474], "nice": false, "zero": false}},
  "y2": {"field": "y2"}}},
{"data": {"name": "wo3"}, "mark": {"type": "rule", "color": "#000", "strokeWidth": 1.5},
 "encoding": {
  "x": {"field": "x", "type": "quantitative", "title": "2θ / °", "scale": {"domain": [10, 80], "nice": false, "zero": false}},
  "y": {"field": "y", "type": "quantitative", "title": "intensity", "scale": {"domain": [0, 474], "nice": false, "zero": false}},
  "y2": {"field": "y2"}}},
{"data": {"name": "traces"}, "mark": {"type": "line", "strokeWidth": 1.4},
 "encoding": {
  "x": {"field": "x", "type": "quantitative", "title": "2θ / °", "scale": {"domain": [10, 80], "nice": false, "zero": false},
   "axis": {"values": [10,15,20,25,30,35,40,45,50,55,60,65,70,75,80], "labelExpr": "datum.value % 10 === 0 ? datum.label : ''",
    "tickSize": {"condition": {"test": "datum.value % 10 === 0", "value": 8}, "value": 4},
    "labelOverlap": false, "labelFlush": false, "labelFontSize": 20, "titleFontSize": 22}},
  "y": {"field": "y", "type": "quantitative", "title": "intensity", "scale": {"domain": [0, 474], "nice": false, "zero": false}, "axis": {"titleFontSize": 23}},
  "color": {"field": "s", "type": "nominal", "legend": null,
   "scale": {"domain": ["B","80","60","40","20","Mix","A"], "range": ["#80801e","#e030e0","#4f8582","#2424f0","#e03030","#3d8a22","#7a1f25"]}}}},
{"data": {"values": [{"t": "Rutile", "x": 65.09, "y": 434}]},
 "mark": {"type": "text", "font": "Liberation Sans", "fontWeight": "bold", "fontSize": 31, "align": "left", "baseline": "alphabetic", "color": "#000"},
 "encoding": {"text": {"field": "t"},
  "x": {"field": "x", "type": "quantitative", "title": "2θ / °", "scale": {"domain": [10, 80], "nice": false, "zero": false}},
  "y": {"field": "y", "type": "quantitative", "title": "intensity", "scale": {"domain": [0, 474], "nice": false, "zero": false}}}},
{"data": {"values": [{"t": "B", "x": 73.59, "y": 384}]},
 "mark": {"type": "text", "font": "Liberation Sans", "fontWeight": "bold", "fontSize": 31, "align": "center", "baseline": "alphabetic", "color": "#000"},
 "encoding": {"text": {"field": "t"},
  "x": {"field": "x", "type": "quantitative", "title": "2θ / °", "scale": {"domain": [10, 80], "nice": false, "zero": false}},
  "y": {"field": "y", "type": "quantitative", "title": "intensity", "scale": {"domain": [0, 474], "nice": false, "zero": false}}}},
{"data": {"values": [{"t": "Calcined A", "x": 58.99, "y": 116.3}]},
 "mark": {"type": "text", "font": "Liberation Sans", "fontWeight": "bold", "fontSize": 27, "align": "left", "baseline": "alphabetic", "color": "#000"},
 "encoding": {"text": {"field": "t"},
  "x": {"field": "x", "type": "quantitative", "title": "2θ / °", "scale": {"domain": [10, 80], "nice": false, "zero": false}},
  "y": {"field": "y", "type": "quantitative", "title": "intensity", "scale": {"domain": [0, 474], "nice": false, "zero": false}}}},
{"data": {"values": [{"t": "Calcined", "x": 58.66, "y": 384}, {"t": "Calcined Mixture", "x": 53.41, "y": 163}]},
 "mark": {"type": "text", "font": "Liberation Sans", "fontWeight": "bold", "fontSize": 25, "align": "left", "baseline": "alphabetic", "color": "#000"},
 "encoding": {"text": {"field": "t"},
  "x": {"field": "x", "type": "quantitative", "title": "2θ / °", "scale": {"domain": [10, 80], "nice": false, "zero": false}},
  "y": {"field": "y", "type": "quantitative", "title": "intensity", "scale": {"domain": [0, 474], "nice": false, "zero": false}}}},
{"data": {"values": [{"t": "Calcined Com-80%", "x": 52.4, "y": 339.7}, {"t": "Calcined Com-60%", "x": 52.68, "y": 291.3}, {"t": "Calcined Com-40%", "x": 52.68, "y": 246.3}, {"t": "Calcined Com-20%", "x": 52.93, "y": 202}, {"t": "WO", "x": 60.82, "y": 68}, {"t": ", 33-1387", "x": 66.83, "y": 68}, {"t": "WO", "x": 61.22, "y": 16.3}, {"t": ", 83-0950", "x": 67.23, "y": 16.3}]},
 "mark": {"type": "text", "font": "Liberation Sans", "fontWeight": "bold", "fontSize": 23, "align": "left", "baseline": "alphabetic", "color": "#000"},
 "encoding": {"text": {"field": "t"},
  "x": {"field": "x", "type": "quantitative", "title": "2θ / °", "scale": {"domain": [10, 80], "nice": false, "zero": false}},
  "y": {"field": "y", "type": "quantitative", "title": "intensity", "scale": {"domain": [0, 474], "nice": false, "zero": false}}}},
{"data": {"values": [{"t": "3", "x": 65.73, "y": 58}, {"t": "3", "x": 66.16, "y": 6.3}]},
 "mark": {"type": "text", "font": "Liberation Sans", "fontWeight": "bold", "fontSize": 14, "align": "left", "baseline": "alphabetic", "color": "#000"},
 "encoding": {"text": {"field": "t"},
  "x": {"field": "x", "type": "quantitative", "title": "2θ / °", "scale": {"domain": [10, 80], "nice": false, "zero": false}},
  "y": {"field": "y", "type": "quantitative", "title": "intensity", "scale": {"domain": [0, 474], "nice": false, "zero": false}}}},
{"data": {"values": [{"t": "(110)", "x": 27.56, "y": 458.7}, {"t": "(101)", "x": 36.22, "y": 442.3}, {"t": "(211)", "x": 54.1, "y": 442.3}]},
 "mark": {"type": "text", "font": "Liberation Sans", "fontWeight": "bold", "fontSize": 18, "align": "center", "baseline": "middle", "color": "#000"},
 "encoding": {"text": {"field": "t"},
  "x": {"field": "x", "type": "quantitative", "title": "2θ / °", "scale": {"domain": [10, 80], "nice": false, "zero": false}},
  "y": {"field": "y", "type": "quantitative", "title": "intensity", "scale": {"domain": [0, 474], "nice": false, "zero": false}}}},
{"data": {"values": [{"t": "(100)", "x": 14.55, "y": 77.3}, {"t": "(001)", "x": 23.01, "y": 75.7}, {"t": "(200)", "x": 28.41, "y": 89.7}, {"t": "(002)", "x": 21.55, "y": 37}, {"t": "(200)", "x": 26.87, "y": 37}]},
 "mark": {"type": "text", "font": "Liberation Sans", "fontWeight": "bold", "fontSize": 17, "align": "center", "baseline": "middle", "color": "#000"},
 "encoding": {"text": {"field": "t"},
  "x": {"field": "x", "type": "quantitative", "title": "2θ / °", "scale": {"domain": [10, 80], "nice": false, "zero": false}},
  "y": {"field": "y", "type": "quantitative", "title": "intensity", "scale": {"domain": [0, 474], "nice": false, "zero": false}}}}
]
}
